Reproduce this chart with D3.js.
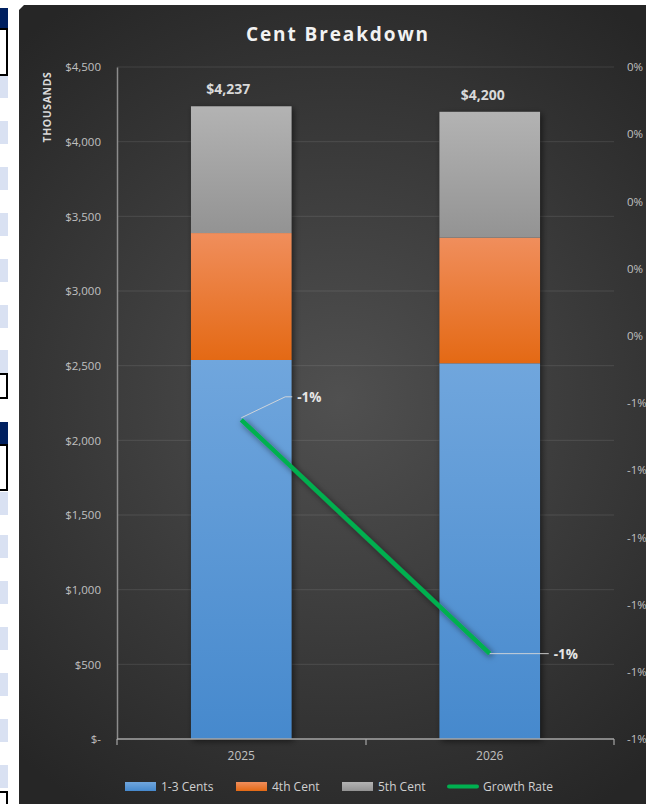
<!DOCTYPE html>
<html><head><meta charset="utf-8">
<script src="https://cdn.jsdelivr.net/npm/d3@7"></script>
<style>
html,body{margin:0;padding:0;background:#fff;}
svg{display:block;font-family:"Open Sans","Noto Sans",sans-serif;}
</style></head>
<body><svg id="c" width="646" height="804"></svg>
<script>
// ---- data ----
const years = ["2025", "2026"];
const cents13 = [2538, 2516];
const cent4 = [850, 841];
const cent5 = [849, 843];
const totals = [4237, 4200];
const totalLabels = ["$4,237", "$4,200"];
const growth = [-0.00525, -0.00873];
const growthLabels = ["-1%", "-1%"];
const leftTicks = [0, 500, 1000, 1500, 2000, 2500, 3000, 3500, 4000, 4500];
const leftTickLabels = ["$-", "$500", "$1,000", "$1,500", "$2,000", "$2,500", "$3,000", "$3,500", "$4,000", "$4,500"];
const rightTicks = [0, -0.001, -0.002, -0.003, -0.004, -0.005, -0.006, -0.007, -0.008, -0.009, -0.01];
const rightTickLabels = ["0%", "0%", "0%", "0%", "0%", "-1%", "-1%", "-1%", "-1%", "-1%", "-1%"];
const seriesNames = ["1-3 Cents", "4th Cent", "5th Cent", "Growth Rate"];

const svg = d3.select("#c");
const defs = svg.append("defs");

// ---- spreadsheet strip on the left (decoration) ----
const strip = svg.append("g");
const lightCells = [75, 121, 167, 213, 259, 305, 350, 492, 535, 581, 627, 673, 719, 765];
strip.selectAll("rect.lc").data(lightCells).join("rect")
  .attr("x", 0).attr("y", d => d).attr("width", 8).attr("height", 23).attr("fill", "#d9e1f2");
strip.append("rect").attr("x", 0).attr("y", 8).attr("width", 8).attr("height", 21).attr("fill", "#002060");
strip.append("rect").attr("x", 0).attr("y", 422).attr("width", 8).attr("height", 23).attr("fill", "#002060");
[[29, 46], [374, 24], [445, 45], [792, 14]].forEach(([y, h]) => {
  strip.append("rect").attr("x", -2).attr("y", y).attr("width", 9).attr("height", h)
    .attr("fill", "#fff").attr("stroke", "#000").attr("stroke-width", 2);
});

// ---- chart background ----
const bg = defs.append("radialGradient").attr("id", "bg").attr("gradientUnits", "userSpaceOnUse")
  .attr("cx", 340).attr("cy", 400).attr("r", 480);
bg.append("stop").attr("offset", "0%").attr("stop-color", "#505050");
bg.append("stop").attr("offset", "100%").attr("stop-color", "#262626");
svg.append("path").attr("d", "M19,10 L24,5 L646,5 L646,804 L19,804 Z").attr("fill", "url(#bg)");

// gradients for bars
function vgrad(id, top, bot) {
  const g = defs.append("linearGradient").attr("id", id).attr("x1", 0).attr("y1", 0).attr("x2", 0).attr("y2", 1);
  g.append("stop").attr("offset", "0%").attr("stop-color", top);
  g.append("stop").attr("offset", "100%").attr("stop-color", bot);
}
vgrad("gBlue", "#70a6dd", "#4689cd");
vgrad("gOrange", "#f08e5c", "#e46914");
vgrad("gGray", "#b3b3b3", "#939393");
const sh = defs.append("filter").attr("id", "shadow").attr("x", "-20%").attr("y", "-20%").attr("width", "140%").attr("height", "140%");
sh.append("feDropShadow").attr("dx", 2).attr("dy", 2).attr("stdDeviation", 3).attr("flood-color", "#000").attr("flood-opacity", 0.55);

// ---- scales ----
const x = d3.scaleBand().domain(years).range([117, 614]).padding(0);
const y = d3.scaleLinear().domain([0, 4500]).range([739, 67]);
const yR = d3.scaleLinear().domain([-0.01, 0]).range([739, 67]);
const barW = x.bandwidth() * 0.405;
const cx = d => x(d) + x.bandwidth() / 2;

const tickColor = "#c0c0c0";

// title
svg.append("text").attr("x", 338).attr("y", 41).attr("text-anchor", "middle")
  .attr("fill", "#f2f2f2").attr("font-size", 19).attr("font-weight", "bold").attr("letter-spacing", 1.9)
  .text("Cent Breakdown");

// gridlines
svg.append("g").selectAll("line").data(leftTicks.filter(d => d > 0)).join("line")
  .attr("x1", 117).attr("x2", 614).attr("y1", d => y(d)).attr("y2", d => y(d))
  .attr("stroke", "#ffffff").attr("stroke-opacity", 0.1).attr("stroke-width", 1);

// left axis
const gL = svg.append("g").attr("transform", "translate(117,0)")
  .call(d3.axisLeft(y).tickValues(leftTicks).tickFormat((d, i) => leftTickLabels[i]).tickSize(0).tickPadding(16));
gL.select(".domain").attr("stroke", "#8c8c8c").attr("stroke-width", 1.5);
gL.selectAll("text").attr("fill", tickColor).attr("font-size", 11.5).attr("font-family", "Open Sans");

// right axis
const gR = svg.append("g").attr("transform", "translate(614,0)")
  .call(d3.axisRight(yR).tickValues(rightTicks).tickFormat((d, i) => rightTickLabels[i]).tickSize(0).tickPadding(13));
gR.select(".domain").remove();
gR.selectAll("text").attr("fill", tickColor).attr("font-size", 11.5).attr("font-family", "Open Sans");

// axis title
svg.append("text").attr("transform", "translate(51,107) rotate(-90)").attr("text-anchor", "middle")
  .attr("fill", "#d9d9d9").attr("font-size", 10.5).attr("font-weight", "bold").attr("letter-spacing", 0.6)
  .text("THOUSANDS");

// stacked bars
const stackData = years.map((yr, i) => ({ year: yr, a: cents13[i], b: cent4[i], c: cent5[i] }));
const stacked = d3.stack().keys(["a", "b", "c"])(stackData);
const fills = { a: "url(#gBlue)", b: "url(#gOrange)", c: "url(#gGray)" };
const barsG = svg.append("g");
barsG.selectAll("rect.sh").data(years).join("rect")
  .attr("x", d => cx(d) - barW / 2).attr("width", barW)
  .attr("y", (d, i) => y(totals[i])).attr("height", (d, i) => y(0) - y(totals[i]))
  .attr("fill", "#333").attr("filter", "url(#shadow)");
stacked.forEach(layer => {
  barsG.selectAll(null).data(layer).join("rect")
    .attr("x", d => cx(d.data.year) - barW / 2).attr("width", barW)
    .attr("y", d => y(d[1])).attr("height", d => y(d[0]) - y(d[1]))
    .attr("fill", fills[layer.key]);
});

// x axis
const gX = svg.append("g").attr("transform", "translate(0,739)")
  .call(d3.axisBottom(x).tickSize(0).tickPadding(12));
gX.select(".domain").attr("stroke", "#a6a6a6").attr("stroke-width", 1.5).attr("d", "M117,0H614");
gX.selectAll("text").attr("fill", tickColor).attr("font-size", 12).attr("font-family", "Open Sans");
svg.append("g").selectAll("line").data([117, 366, 614]).join("line")
  .attr("x1", d => d).attr("x2", d => d).attr("y1", 739).attr("y2", 745)
  .attr("stroke", "#a6a6a6").attr("stroke-width", 1.2);

// total labels
const totOffsets = [-13, -7];
svg.append("g").selectAll("text").data(years).join("text")
  .attr("x", (d, i) => cx(d) + totOffsets[i]).attr("y", (d, i) => y(totals[i]) - 12)
  .attr("text-anchor", "middle").attr("fill", "#d9d9d9").attr("font-size", 14).attr("font-weight", "bold")
  .text((d, i) => totalLabels[i]);

// growth line
const line = d3.line().x((d, i) => cx(years[i])).y(d => yR(d));
svg.append("path").datum(growth).attr("d", line).attr("fill", "none")
  .attr("stroke", "#00b050").attr("stroke-width", 4.5).attr("filter", "url(#shadow)");

// growth labels with leader lines
const p0 = [cx(years[0]), yR(growth[0])];
const p1 = [cx(years[1]), yR(growth[1])];
svg.append("path").attr("d", `M${p0[0]},${p0[1] - 2}L${p0[0] + 44},${p0[1] - 23}H${p0[0] + 51}`)
  .attr("fill", "none").attr("stroke", "#d9d9d9").attr("stroke-width", 0.9);
svg.append("path").attr("d", `M${p1[0]},${p1[1]}H${p1[0] + 59}`)
  .attr("fill", "none").attr("stroke", "#d9d9d9").attr("stroke-width", 0.9);
svg.append("text").attr("x", p0[0] + 56).attr("y", p0[1] - 18).attr("fill", "#e6e6e6")
  .attr("font-size", 13.5).attr("font-weight", "bold").text(growthLabels[0]);
svg.append("text").attr("x", p1[0] + 64).attr("y", p1[1] + 5).attr("fill", "#e6e6e6")
  .attr("font-size", 13.5).attr("font-weight", "bold").text(growthLabels[1]);

// legend
const legX = [125, 236, 342, 447];
const legColors = ["url(#gBlue)", "url(#gOrange)", "url(#gGray)", "#00b050"];
const leg = svg.append("g");
seriesNames.forEach((n, i) => {
  if (i < 3) {
    leg.append("rect").attr("x", legX[i]).attr("y", 782).attr("width", 31).attr("height", 9).attr("fill", legColors[i]);
  } else {
    leg.append("line").attr("x1", legX[i] + 2).attr("x2", legX[i] + 30).attr("y1", 786.5).attr("y2", 786.5)
      .attr("stroke", legColors[i]).attr("stroke-width", 4).attr("stroke-linecap", "round");
  }
  leg.append("text").attr("x", legX[i] + 36).attr("y", 791).attr("fill", "#d0d0d0").attr("font-size", 12).text(n);
});
</script></body></html>
